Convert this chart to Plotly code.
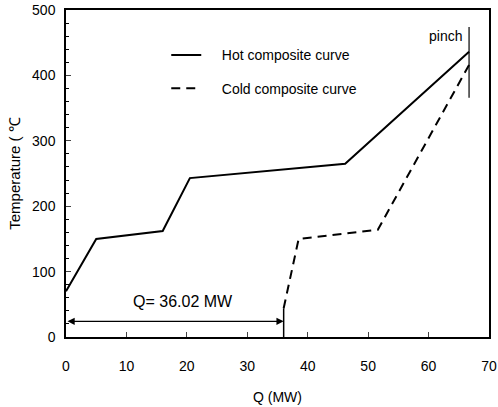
import plotly.graph_objects as go

hot_q = [0, 5, 16, 20.5, 46.2, 66.7]
hot_t = [70, 150, 162, 243, 265, 436]
cold_q = [36.02, 38.5, 51.6, 66.7]
cold_t = [44, 150, 164, 416]
q_min = 36.02
arrow_t = 24
pinch_q = 66.7
pinch_t = [366, 474]
x_ticks = [0, 10, 20, 30, 40, 50, 60, 70]
y_ticks = [0, 100, 200, 300, 400, 500]

FONT = "Liberation Sans, Arial, sans-serif"
PAD = "\u00a0" * 4

fig = go.Figure()
fig.add_trace(go.Scatter(x=hot_q, y=hot_t, mode="lines", name=PAD + "Hot composite curve",
                         line=dict(color="black", width=2), legendgroup="a"))
fig.add_trace(go.Scatter(x=cold_q, y=cold_t, mode="lines", name=PAD + "Cold composite curve",
                         line=dict(color="black", width=2, dash="9px,6px"), legendgroup="b"))
# vertical extension at cold start
fig.add_trace(go.Scatter(x=[q_min, q_min], y=[0, cold_t[0]], mode="lines", showlegend=False,
                         line=dict(color="black", width=1.5)))
# pinch line
fig.add_trace(go.Scatter(x=[pinch_q, pinch_q], y=pinch_t, mode="lines", showlegend=False,
                         line=dict(color="black", width=1.2)))

fig.add_annotation(x=q_min, y=arrow_t, ax=0, ay=arrow_t, xref="x", yref="y", axref="x", ayref="y",
                   text="", showarrow=True, arrowhead=2, arrowsize=1.2, arrowwidth=1.2,
                   arrowside="end+start", arrowcolor="black")
fig.add_annotation(x=19.4, y=55, xref="x", yref="y", text="Q= 36.02 MW", showarrow=False,
                   font=dict(family=FONT, size=16, color="black"))
fig.add_annotation(x=pinch_q - 0.9, y=460, xref="x", yref="y", text="pinch", showarrow=False,
                   xanchor="right", font=dict(family=FONT, size=14, color="black"))

fig.update_layout(
    width=498, height=407,
    margin=dict(l=66, r=9, t=10, b=70),
    paper_bgcolor="white", plot_bgcolor="white",
    font=dict(family=FONT, size=14, color="black"),
    showlegend=True,
    legend=dict(x=0.237, y=0.91, xanchor="left", yanchor="top", bgcolor="rgba(0,0,0,0)",
                traceorder="grouped", tracegroupgap=12, font=dict(size=14)),
    xaxis=dict(range=[0, 70], tickvals=x_ticks, ticks="inside", ticklen=5, tickwidth=1.2,
               showline=True, linecolor="black", linewidth=1.5, mirror=True, showgrid=False,
               zeroline=False, ticklabelstandoff=15, automargin=False,
               title=dict(text="Q (MW)", standoff=20, font=dict(size=14))),
    yaxis=dict(range=[0, 500], tickvals=y_ticks, ticks="inside", ticklen=5, tickwidth=1.2,
               minor=dict(dtick=20, ticks="inside", ticklen=3, tickcolor="black"),
               showline=True, linecolor="black", linewidth=1.5, mirror=True, showgrid=False,
               zeroline=False, ticklabelstandoff=6, automargin=False,
               title=dict(text="Temperature ( ℃", standoff=8, font=dict(size=15))),
)

fig.write_html("out.html")
